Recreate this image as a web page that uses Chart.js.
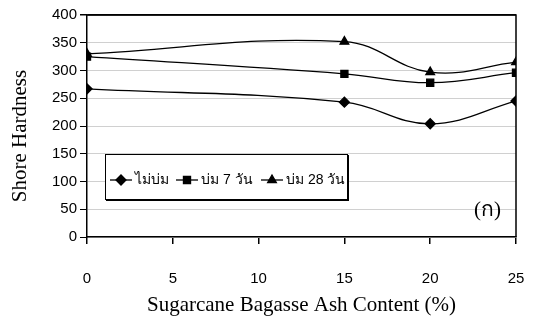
<!DOCTYPE html>
<html>
<head>
<meta charset="utf-8">
<script src="https://cdn.jsdelivr.net/npm/chart.js@4"></script>
<style>
  html, body { margin: 0; padding: 0; background: #fff; }
  #wrap { width: 535px; height: 320px; }
</style>
</head>
<body>
<div id="wrap"><canvas id="grafica"></canvas></div>
<script>
// ค่าที่อ่านจากกราฟ
const ashContent = [0, 15, 20, 25];
const noCure = [267, 243, 204, 245];
const cure7 = [325, 294, 278, 296];
const cure28 = [330, 352, 297, 315];
const seriesLabels = ["ไม่บ่ม", "บ่ม 7 วัน", "บ่ม 28 วัน"];
const xTicks = [0, 5, 10, 15, 20, 25];
const yTicks = [0, 50, 100, 150, 200, 250, 300, 350, 400];
const yTitle = 'Shore Hardness';

function toPoints(vals) {
    return ashContent.map((x, i) => ({ x: x, y: vals[i] }));
}

function serie(label, vals, style, r) {
    return {
        label: label,
        data: toPoints(vals),
        borderColor: '#000',
        backgroundColor: '#000',
        borderWidth: 1.3,
        pointStyle: style,
        pointRadius: r,
        pointHoverRadius: r,
        tension: 0.4,
        fill: false,
    };
}

// กล่อง legend ภายในกราฟ, ตัวอักษร (ก) และชื่อแกน y
const boxLegend = {
    id: 'boxLegend',
    afterDraw(chart) {
        const ctx = chart.ctx;
        ctx.save();
        ctx.fillStyle = '#fff';
        ctx.fillRect(106, 154, 242, 45);
        ctx.strokeStyle = '#000';
        ctx.lineWidth = 1;
        ctx.strokeRect(105.5, 154.5, 242, 45);
        ctx.lineWidth = 2;
        ctx.beginPath();
        ctx.moveTo(106, 200); ctx.lineTo(348, 200); ctx.lineTo(348, 155);
        ctx.stroke();
        const xs = [110, 176, 261];
        const cy = 180;
        ctx.font = '14px "Liberation Sans", Arial, sans-serif';
        ctx.textBaseline = 'middle';
        chart.data.datasets.forEach((ds, i) => {
            const x = xs[i];
            ctx.strokeStyle = '#000';
            ctx.fillStyle = '#000';
            ctx.lineWidth = 1.3;
            ctx.beginPath();
            ctx.moveTo(x, cy); ctx.lineTo(x + 22, cy);
            ctx.stroke();
            Chart.helpers.drawPoint(ctx, { pointStyle: ds.pointStyle, radius: ds.pointRadius, rotation: 0, borderWidth: 1 }, x + 11, cy);
            ctx.fillStyle = '#000';
            ctx.fillText(ds.label, x + 25, cy);
        });
        ctx.font = '21px "Liberation Serif", "Times New Roman", serif';
        ctx.textAlign = 'right';
        ctx.fillText('(ก)', 501, 210);

        // ชื่อแกน y
        ctx.translate(20, 136);
        ctx.rotate(-Math.PI / 2);
        ctx.textAlign = 'center';
        ctx.fillText(yTitle, 0, 0);
        ctx.restore();
    }
};

const grafica = document.querySelector('#grafica');
new Chart(grafica, {
    type: 'line',
    data: {
        datasets: [
            serie(seriesLabels[0], noCure, 'rectRot', 5),
            serie(seriesLabels[1], cure7, 'rect', 5),
            serie(seriesLabels[2], cure28, 'triangle', 5),
        ]
    },
    options: {
        responsive: true,
        maintainAspectRatio: false,
        animation: false,
        layout: { padding: { top: 15, right: 19, left: 0, bottom: 0 } },
        plugins: {
            legend: { display: false },
            tooltip: { enabled: false },
        },
        scales: {
            x: {
                type: 'linear',
                min: 0,
                max: 25,
                afterBuildTicks: (s) => { s.ticks = xTicks.map(v => ({ value: v })); },
                afterFit: (s) => { s.height = 83; s.paddingLeft = 0; s.paddingRight = 0; },
                grid: { drawOnChartArea: false, drawTicks: true, tickLength: 7, tickColor: '#000', lineWidth: 1.5 },
                border: { color: '#000', width: 1.5 },
                ticks: {
                    color: '#000',
                    padding: 26,
                    font: { family: '"Liberation Sans", Arial, sans-serif', size: 15 },
                },
                title: {
                    display: true,
                    text: 'Sugarcane Bagasse Ash Content (%)',
                    color: '#000',
                    padding: { top: 0, bottom: 2 },
                    font: { family: '"Liberation Serif", "Times New Roman", serif', size: 21 },
                },
            },
            y: {
                min: 0,
                max: 400,
                afterBuildTicks: (s) => { s.ticks = yTicks.map(v => ({ value: v })); },
                afterFit: (s) => { s.width = 87; s.paddingTop = 0; s.paddingBottom = 0; },
                grid: {
                    color: (c) => c.tick && c.tick.value === 400 ? '#000' : '#d0d0d0',
                    lineWidth: (c) => c.tick && c.tick.value === 400 ? 1.5 : 1,
                    tickLength: 7,
                    tickColor: '#000',
                },
                border: { color: '#000', width: 1.5 },
                ticks: {
                    color: '#000',
                    padding: 3,
                    font: { family: '"Liberation Sans", Arial, sans-serif', size: 15 },
                },
            },
        },
    },
    plugins: [{
        id: 'rightBorder',
        afterDraw(chart) {
            const a = chart.chartArea, ctx = chart.ctx;
            ctx.save();
            ctx.strokeStyle = '#000';
            ctx.lineWidth = 1.5;
            ctx.beginPath();
            ctx.moveTo(a.left, a.top); ctx.lineTo(a.right, a.top); ctx.lineTo(a.right, a.bottom);
            ctx.stroke();
            ctx.restore();
        }
    }, boxLegend],
});
</script>
</body>
</html>
